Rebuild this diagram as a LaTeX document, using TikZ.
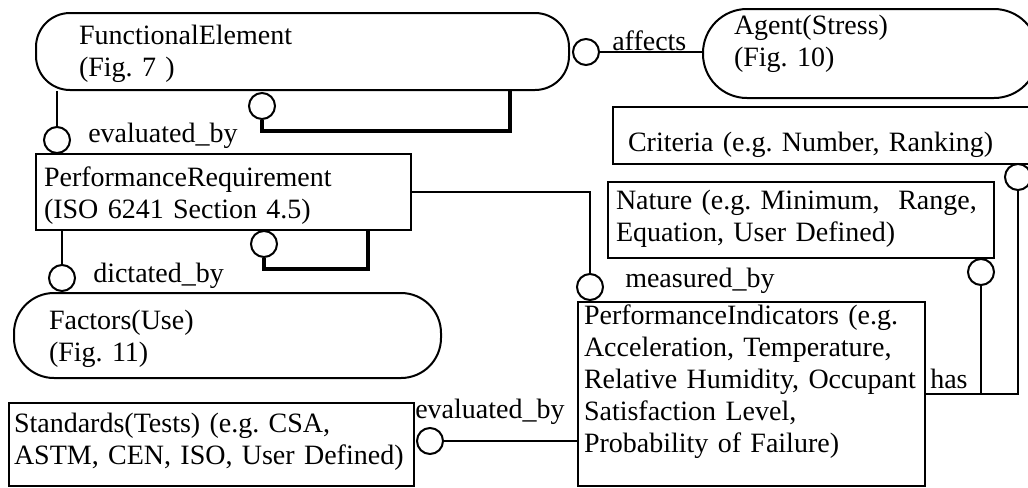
\documentclass[tikz,border=0pt]{standalone}
\usepackage{fontspec}
\setmainfont{Liberation Serif}
\frenchspacing
\begin{document}
\begin{tikzpicture}[x=0.75pt, y=-0.75pt,
        entity/.style={draw, line width=1.5pt, anchor=north west, align=left,
            inner ysep=0pt, font=\fontsize{21}{24}\selectfont},
        ring/.style={draw, circle, line width=1.5pt, minimum size=19.5pt, inner sep=0pt},
        rel/.style={anchor=base west, inner sep=0pt, font=\fontsize{21}{24}\selectfont},
        link/.style={line width=1.5pt},
        loopline/.style={line width=3pt}]
        \useasboundingbox (0,0) rectangle (1028,487);
        \node[entity, rounded corners=25.5pt, inner xsep=32.25pt, text width=335.25pt,
            text height=23.25pt, text depth=34.5pt] (fe) at (35,12) {FunctionalElement\\(Fig. 7 )};
        \node[entity, rounded corners=33pt, inner xsep=23.25pt, text width=204.75pt,
            text height=18.75pt, text depth=48pt] (agent) at (702,8) {Agent(Stress)\\(Fig. 10)};
        \node[entity, inner xsep=11.25pt, text width=313.5pt,
            text height=33pt, text depth=9.75pt] (criteria) at (612,106) {Criteria (e.g. Number, Ranking)};
        \node[entity, inner xsep=6pt, text width=277.5pt,
            text height=20.25pt, text depth=36.75pt] (nature) at (607,181) {Nature (e.g. Minimum,\ \ Range,\\Equation, User Defined)};
        \node[entity, inner xsep=6pt, text width=269.25pt,
            text height=24pt, text depth=33pt] (pr) at (35,153) {PerformanceRequirement\\(ISO 6241 Section 4.5)};
        \node[entity, rounded corners=30pt, inner xsep=26.25pt, text width=267.75pt,
            text height=27pt, text depth=36.75pt] (factors) at (13,292) {Factors(Use)\\(Fig. 11)};
        \node[entity, inner xsep=4.5pt, text width=251.25pt,
            text height=16.5pt, text depth=121.5pt] (pi) at (577,301) {PerformanceIndicators (e.g.\\Acceleration, Temperature,\\Relative Humidity, Occupant\\Satisfaction Level,\\Probability of Failure)};
        \node[entity, inner xsep=3.75pt, text width=296.25pt,
            text height=21.75pt, text depth=40.5pt] (std) at (8,402) {Standards(Tests) (e.g. CSA,\\ASTM, CEN, ISO, User Defined)};
        \node[ring] (c-affects)  at (586,52)  {};
        \node[ring] (c-evalfe)   at (57,140)  {};
        \node[ring] (c-feself)   at (262,106) {};
        \node[ring] (c-prself)   at (264,244) {};
        \node[ring] (c-dict)     at (62,278)  {};
        \node[ring] (c-meas)     at (590,287) {};
        \node[ring] (c-nature)   at (981,272) {};
        \node[ring] (c-criteria) at (1018,177) {};
        \node[ring] (c-std)      at (430,441) {};
        \coordinate (fe-loop) at (510,131);
        \coordinate (pr-loop) at (368,269);
        \draw[link]     (c-evalfe) -- (c-evalfe |- fe.south);
        \draw[loopline] (c-feself) |- (fe-loop) -- (fe-loop |- fe.south);
        \draw[loopline] (c-prself) |- (pr-loop) -- (pr-loop |- pr.south);
        \draw[link]     (c-dict) -- (c-dict |- pr.south);
        \draw[link]     (c-affects) -- (c-affects -| agent.west);
        \draw[link]     (pr.east) -| (c-meas);
        \draw[link]     (c-std) -- (c-std -| pi.west);
        \draw[link]     (pi.east) -| (c-criteria);
        \draw[link]     (c-nature) -- (c-nature |- pi.east);
        \node[rel] (l-evalfe)  at (88,142)  {evaluated\_by};
        \node[rel] (l-dict)    at (93,282)  {dictated\_by};
        \node[rel] (l-affects) at (612,50)  {affects};
        \node[rel] (l-meas)    at (625,287) {measured\_by};
        \node[rel] (l-evalstd) at (415,418) {evaluated\_by};
        \node[rel] (l-has)     at (930,388) {has};
      \end{tikzpicture}
\end{document}
